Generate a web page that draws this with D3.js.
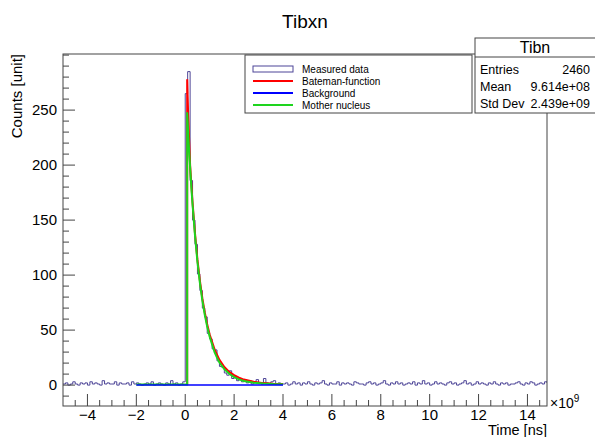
<!DOCTYPE html>
<html>
<head>
<meta charset="utf-8">
<script src="https://cdn.jsdelivr.net/npm/d3@7"></script>
<style>
  body { margin: 0; background: #fff; }
  svg { display: block; font-family: "Liberation Sans", Arial, sans-serif; }
</style>
</head>
<body>
<svg id="canvas" width="595" height="437"></svg>
<script>
// ---- data (x in units of 1e9 ns) ----
var binStart = -5, binWidth = 0.1;
var counts = [
  // -5 .. 0
  1,2,0,1,3,1,0,2,1,2, 0,3,1,2,1,0,4,1,2,1, 1,3,0,2,1,1,2,0,3,1,
  2,1,0,1,2,1,3,0,1,2, 1,0,2,1,4,1,2,0,1,3,
  // 0 .. 4
  265,285,186,150,128,101,86,70,62,47, 42,33,32,22,17,16,11,9,13,6,
  8,4,6,3,5,2,4,1,3,5, 2,1,6,2,1,3,4,1,2,1,
  // 4 .. 15
  1,2,0,1,3,1,2,0,2,1, 3,1,0,2,1,2,4,1,0,2, 1,1,3,0,2,1,2,1,0,3,
  2,1,1,0,2,3,1,2,0,1, 2,4,1,0,2,1,3,1,2,0, 1,2,1,3,0,2,1,4,1,2,
  0,1,3,1,2,1,0,2,3,1, 2,0,1,2,4,1,2,0,1,3, 1,2,1,0,2,1,3,1,0,2,
  1,2,0,1,1,2,3,1,0,2, 1,3,2,0,1,2,1,3,2,1
];

var motherT = [-2, 0.08, 0.08, 0.15, 0.2, 0.25, 0.3, 0.4, 0.5, 0.6, 0.7, 0.8, 0.9, 1.0, 1.1, 1.2, 1.3, 1.4, 1.6, 1.8, 2.0, 2.2, 2.4, 2.8, 3.2, 3.6, 4.0];
var motherV = [0.6, 0.6, 248, 217, 198, 180, 164, 136, 112, 93, 77, 64, 53, 44, 37, 30, 25, 20.5, 14.5, 10.3, 7.2, 5.2, 3.8, 2.2, 1.4, 1.0, 0.8];

var batemanT = [0.08, 0.08, 0.1, 0.12, 0.2, 0.3, 0.4, 0.5, 0.6, 0.7, 0.8, 0.9, 1.0, 1.2, 1.4, 1.6, 1.8, 2.0, 2.2, 2.4, 2.8, 3.2, 3.6, 4.0];
var batemanV = [0, 278, 262, 246, 200, 166, 138, 114, 95, 79, 66, 55, 46, 32.5, 23, 16.5, 12, 9, 6.8, 5, 3, 1.8, 1.2, 0.9];

var backgroundT = [-2, 4];
var backgroundV = [0, 0];

var xTicks = [-4, -2, 0, 2, 4, 6, 8, 10, 12, 14];
var yTicks = [0, 50, 100, 150, 200, 250];

var legendLabels = ["Measured data", "Bateman-function", "Background", "Mother nucleus"];
var legendColors = ["#4d4597", "#ff0000", "#0000ff", "#1ed41e"];

var statsNames = ["Entries", "Mean", "Std Dev"];
var statsValues = ["2460", "9.614e+08", "2.439e+09"];

// ---- layout ----
var svg = d3.select('#canvas');
var frame = { left: 63, right: 547, top: 54, bottom: 406 };

var xScale = d3.scaleLinear().domain([-5, 14.8]).range([frame.left, frame.right]);
var yScale = d3.scaleLinear().domain([-19, 301]).range([frame.bottom, frame.top]);

svg.append('defs').append('clipPath').attr('id', 'plotclip')
  .append('rect')
  .attr('x', frame.left).attr('y', frame.top)
  .attr('width', frame.right - frame.left).attr('height', frame.bottom - frame.top);

// title
svg.append('text')
  .attr('x', 305).attr('y', 28)
  .attr('text-anchor', 'middle')
  .style('font-size', '19px')
  .text('Tibxn');

var plot = svg.append('g').attr('clip-path', 'url(#plotclip)');

// histogram (step outline)
var histPts = counts.map(function(c, i){ return [binStart + i*binWidth, c]; });
histPts.push([binStart + counts.length*binWidth, counts[counts.length-1]]);

var stepLine = d3.line()
  .x(function(d){ return xScale(d[0]); })
  .y(function(d){ return yScale(d[1]); })
  .curve(d3.curveStepAfter);

var plain = d3.line()
  .x(function(d){ return xScale(d[0]); })
  .y(function(d){ return yScale(d[1]); });

plot.append('path')
  .attr('d', stepLine(histPts))
  .attr('fill', 'none').attr('stroke', legendColors[0]).attr('stroke-width', 1);

function zipPts(t, v){ return t.map(function(d, i){ return [d, v[i]]; }); }

plot.append('path')
  .attr('d', plain(zipPts(batemanT, batemanV)))
  .attr('fill', 'none').attr('stroke', legendColors[1]).attr('stroke-width', 2);

plot.append('path')
  .attr('d', plain(zipPts(motherT, motherV)))
  .attr('fill', 'none').attr('stroke', legendColors[3]).attr('stroke-width', 2);

plot.append('path')
  .attr('d', plain(zipPts(backgroundT, backgroundV)))
  .attr('fill', 'none').attr('stroke', legendColors[2]).attr('stroke-width', 1.5);

// frame
svg.append('rect')
  .attr('x', frame.left).attr('y', frame.top)
  .attr('width', frame.right - frame.left).attr('height', frame.bottom - frame.top)
  .attr('fill', 'none').attr('stroke', '#444').attr('stroke-width', 1);

// y axis ticks (inward)
var yMinor = d3.range(-10, 301, 10);
yMinor.forEach(function(v){
  var major = yTicks.indexOf(v) >= 0;
  svg.append('line')
    .attr('x1', frame.left).attr('x2', frame.left + (major ? 12 : 6))
    .attr('y1', yScale(v)).attr('y2', yScale(v))
    .attr('stroke', '#444');
});
yTicks.forEach(function(v){
  svg.append('text')
    .attr('x', frame.left - 6).attr('y', yScale(v) + 5)
    .attr('text-anchor', 'end')
    .style('font-size', '15px')
    .text(v);
});

// x axis ticks (inward)
var xMinor = d3.range(-4.5, 14.8, 0.5);
xMinor.forEach(function(v){
  var major = xTicks.indexOf(v) >= 0;
  svg.append('line')
    .attr('x1', xScale(v)).attr('x2', xScale(v))
    .attr('y1', frame.bottom).attr('y2', frame.bottom - (major ? 12 : 6))
    .attr('stroke', '#444');
});
xTicks.forEach(function(v){
  svg.append('text')
    .attr('x', xScale(v)).attr('y', frame.bottom + 14)
    .attr('text-anchor', 'middle')
    .style('font-size', '15px')
    .text(v < 0 ? '\u2212' + Math.abs(v) : v);
});

// exponent
var ex = svg.append('text').attr('x', 550).attr('y', 408).style('font-size', '14px');
ex.append('tspan').text('\u00d710');
ex.append('tspan').attr('dy', -6).style('font-size', '10px').text('9');

// axis titles
svg.append('text')
  .attr('x', frame.right).attr('y', 435)
  .attr('text-anchor', 'end')
  .style('font-size', '14.5px')
  .text('Time [ns]');

svg.append('text')
  .attr('transform', 'translate(22,' + frame.top + ') rotate(-90)')
  .attr('text-anchor', 'end')
  .style('font-size', '15px')
  .text('Counts [unit]');

// legend
var leg = svg.append('g').attr('transform', 'translate(245,55)');
leg.append('rect').attr('width', 227).attr('height', 58)
  .attr('fill', '#fff').attr('stroke', '#444');
legendLabels.forEach(function(lab, i){
  var yy = 14 + i*12;
  if (i === 0) {
    leg.append('rect').attr('x', 8).attr('y', yy - 3).attr('width', 40).attr('height', 6)
      .attr('fill', '#fff').attr('stroke', legendColors[0]);
  } else {
    leg.append('line').attr('x1', 8).attr('x2', 48).attr('y1', yy).attr('y2', yy)
      .attr('stroke', legendColors[i]).attr('stroke-width', 2);
  }
  leg.append('text').attr('x', 57).attr('y', yy + 3.5)
    .style('font-size', '10px').text(lab);
});

// stats box
var st = svg.append('g').attr('transform', 'translate(475,38)');
st.append('rect').attr('width', 125).attr('height', 75)
  .attr('fill', '#fff').attr('stroke', '#444');
st.append('line').attr('x1', 0).attr('x2', 125).attr('y1', 19).attr('y2', 19).attr('stroke', '#444');
st.append('text').attr('x', 60).attr('y', 15).attr('text-anchor', 'middle')
  .style('font-size', '16px').text('Tibn');
statsNames.forEach(function(n, i){
  var yy = 36 + i*17;
  st.append('text').attr('x', 5).attr('y', yy).style('font-size', '12.5px').text(n);
  st.append('text').attr('x', 115).attr('y', yy).attr('text-anchor', 'end')
    .style('font-size', '12.5px').text(statsValues[i]);
});
</script>
</body>
</html>
